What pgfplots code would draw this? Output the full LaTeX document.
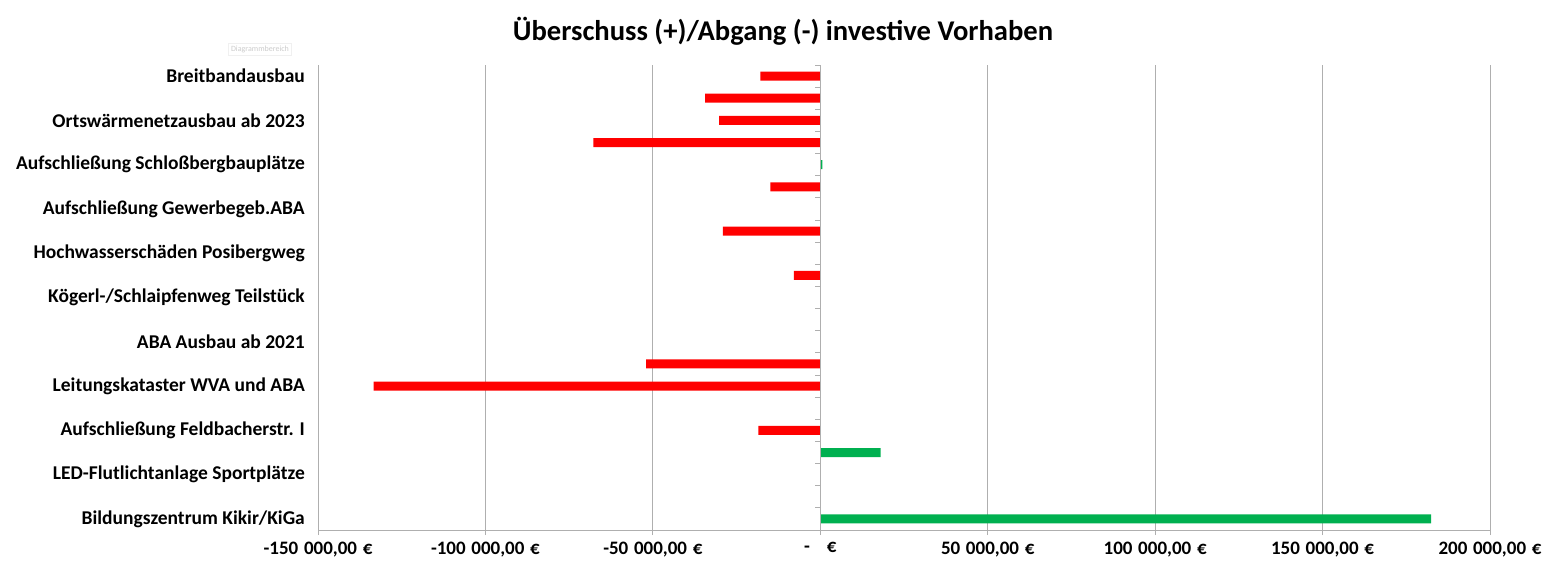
\documentclass[border=0pt]{standalone}
\usepackage{fontspec}
\setmainfont{Carlito}
\usepackage{pgfplots}
\pgfplotsset{compat=1.18}
\definecolor{negred}{RGB}{255,0,0}
\definecolor{posgreen}{RGB}{0,176,80}
\definecolor{gridgray}{RGB}{175,175,175}
\newcommand{\tsp}{\hspace{0.3em}}
\begin{document}
\begin{tikzpicture}[x=1pt,y=1pt]
\useasboundingbox (0,0) rectangle (1547,565);
\node[font=\fontsize{28.6}{32}\selectfont\bfseries] at (783,534) {Überschuss (+)/Abgang (-) investive Vorhaben};
\node[draw=gray!12, fill=white, text=gray!40, font=\fontsize{8}{9}\selectfont, inner sep=2.5pt] at (260,516) {Diagrammbereich};
\begin{axis}[
  at={(318pt,35pt)}, anchor=south west,
  scale only axis, width=1172pt, height=465pt,
  xmin=-150000, xmax=200000, ymin=0.5, ymax=21.5, y dir=reverse,
  axis x line*=bottom, axis y line*=left,
  axis line style={gridgray, -, line width=0.8pt},
  xmajorgrids, grid style={gridgray, line width=0.8pt},
  xtick={-150000,-100000,-50000,0,50000,100000,150000,200000},
  xticklabels={{-150\tsp000,00\tsp€},{-100\tsp000,00\tsp€},{-50\tsp000,00\tsp€},{-\hspace{0.9em}€},{50\tsp000,00\tsp€},{100\tsp000,00\tsp€},{150\tsp000,00\tsp€},{200\tsp000,00\tsp€}},
  xtick style={gridgray, line width=0.8pt},
  tick align=outside, major tick length=5pt,
  ytick={1,3,5,7,9,11,13,15,17,19,21},
  yticklabels={Breitbandausbau, Ortswärmenetzausbau ab 2023, Aufschließung Schloßbergbauplätze, Aufschließung Gewerbegeb.ABA, Hochwasserschäden Posibergweg, Kögerl-/Schlaipfenweg Teilstück, ABA Ausbau ab 2021, Leitungskataster WVA und ABA, Aufschließung Feldbacherstr. I, LED-Flutlichtanlage Sportplätze, Bildungszentrum Kikir/KiGa},
  ytick style={draw=none},
  yticklabel style={font=\fontsize{19.5}{22}\selectfont\bfseries, anchor=east, inner sep=0pt, xshift=-8pt},
  xticklabel style={font=\fontsize{19}{22}\selectfont\bfseries, inner sep=0pt, anchor=north, yshift=-7pt},
  xbar, bar width=9pt, bar shift=0pt,
  clip=false,
]
\addplot[draw=none, fill=negred] coordinates {
 (-17900,1) (-34400,2) (-30200,3) (-67800,4) (-14900,6) (-29100,8)
 (-7900,10) (-52000,14) (-133400,15) (-18500,17)
};
\addplot[draw=none, fill=posgreen] coordinates {
 (600,5) (18000,18) (182400,21)
};
\draw[gridgray, line width=0.8pt] (axis cs:0,0.5) -- (axis cs:0,21.5);
\pgfplotsinvokeforeach{0.5,1.5,2.5,3.5,4.5,5.5,6.5,7.5,8.5,9.5,10.5,11.5,12.5,13.5,14.5,15.5,16.5,17.5,18.5,19.5,20.5}{
  \draw[gridgray, line width=0.8pt] (axis cs:0,#1) -- ++(-5pt,0pt);
}
\end{axis}
\end{tikzpicture}
\end{document}
